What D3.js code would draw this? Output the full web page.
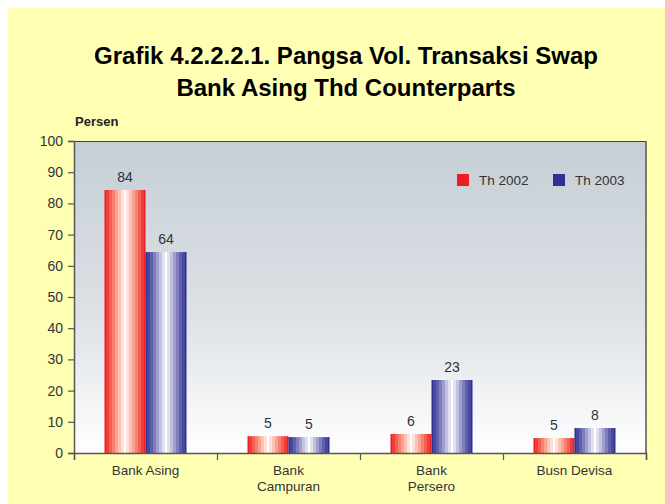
<!DOCTYPE html>
<html><head><meta charset="utf-8">
<script src="https://cdn.jsdelivr.net/npm/d3@7"></script>
<style>body{margin:0;background:#fff;}svg{display:block;font-family:"Liberation Sans",Arial,sans-serif;}</style>
</head><body><svg id="c" width="665" height="504"></svg>
<script>
const categories = [["Bank Asing"], ["Bank", "Campuran"], ["Bank", "Persero"], ["Busn Devisa"]];
const seriesNames = ["Th 2002", "Th 2003"];
const values2002 = [84.3, 5.4, 6.1, 4.8];
const values2003 = [64.4, 5.1, 23.4, 8.0];
const yTicks = [0, 10, 20, 30, 40, 50, 60, 70, 80, 90, 100];
const titleLines = ["Grafik 4.2.2.2.1. Pangsa Vol. Transaksi Swap", "Bank Asing Thd Counterparts"];

const svg = d3.select("#c");
const m = {l: 74, r: 646, t: 141, b: 453};
const defs = svg.append("defs");
const FONT = "Liberation Sans, Arial, sans-serif";

svg.append("rect").attr("x", 8).attr("y", 8).attr("width", 657).attr("height", 496).attr("fill", "#FFFFB4");

const bg = defs.append("linearGradient").attr("id", "bg").attr("x1", 0).attr("y1", 0).attr("x2", 0).attr("y2", 1);
bg.append("stop").attr("offset", 0).attr("stop-color", "#C6CED6");
bg.append("stop").attr("offset", 0.55).attr("stop-color", "#DCE1E5");
bg.append("stop").attr("offset", 1).attr("stop-color", "#FFFFFF");

function barGrad(id, edge, mid1, mid2) {
  const g = defs.append("linearGradient").attr("id", id).attr("x1", 0).attr("x2", 1).attr("y1", 0).attr("y2", 0);
  const n = 14;
  for (let i = 0; i <= n; i++) {
    const t = i / n;
    const d = Math.abs(t - 0.5) * 2;
    const c = d3.interpolateRgbBasis(["#FFFFFF", mid2, mid1, edge])(Math.pow(d, 0.9));
    g.append("stop").attr("offset", Math.max(0, (i - 0.5) / n)).attr("stop-color", c);
    g.append("stop").attr("offset", Math.min(1, (i + 0.5) / n)).attr("stop-color", c);
  }
}
barGrad("gr", "#EE1C24", "#F7705A", "#FCC6B4");
barGrad("gb", "#2E3192", "#6A6AB0", "#C4C4E2");

const y = d3.scaleLinear().domain([0, 100]).range([m.b, m.t]);
const x0 = d3.scaleBand().domain(d3.range(categories.length)).range([m.l, m.r]).paddingInner(0).paddingOuter(0);
const x1 = d3.scaleBand().domain([0, 1]).range([30.5, x0.bandwidth() - 30.5]);

svg.append("rect").attr("x", m.l).attr("y", m.t).attr("width", m.r - m.l).attr("height", m.b - m.t).attr("fill", "url(#bg)");

svg.selectAll(".title").data(titleLines).join("text")
  .attr("x", 346).attr("y", (d, i) => 64 + i * 32).attr("text-anchor", "middle")
  .attr("font-size", 24).attr("font-weight", "bold").attr("fill", "#000").text(d => d);

svg.append("text").attr("x", 75).attr("y", 126).attr("font-size", 13).attr("font-weight", "bold").attr("fill", "#222").text("Persen");

const series = [values2002, values2003];
const grads = ["url(#gr)", "url(#gb)"];
series.forEach((vals, s) => {
  const g = svg.append("g");
  g.selectAll("rect").data(vals).join("rect")
    .attr("x", (d, i) => x0(i) + x1(s)).attr("width", x1.bandwidth())
    .attr("y", d => y(d)).attr("height", d => y(0) - y(d)).attr("fill", grads[s]);
  g.selectAll("text").data(vals).join("text")
    .attr("x", (d, i) => x0(i) + x1(s) + x1.bandwidth() / 2).attr("y", d => y(d) - 8)
    .attr("text-anchor", "middle").attr("font-size", 14).attr("fill", "#333").text(d => d3.format(".0f")(d));
});

svg.append("line").attr("x1", m.l).attr("x2", m.r).attr("y1", m.t + 0.5).attr("y2", m.t + 0.5).attr("stroke", "#444").attr("stroke-width", 1.2);
svg.append("line").attr("x1", m.r).attr("x2", m.r).attr("y1", m.t).attr("y2", m.b).attr("stroke", "#555").attr("stroke-width", 1.5);

const ya = svg.append("g").attr("transform", `translate(${m.l},0)`)
  .call(d3.axisLeft(y).tickValues(yTicks).tickSize(6).tickPadding(5));
ya.select(".domain").attr("stroke", "#555").attr("stroke-width", 1.5);
ya.selectAll(".tick line").attr("stroke", "#555").attr("stroke-width", 1.2);
ya.selectAll(".tick text").attr("font-size", 14).attr("fill", "#333").attr("font-family", FONT);

const xb = d3.scaleLinear().domain([0, categories.length]).range([m.l, m.r]);
const xa = svg.append("g").attr("transform", `translate(0,${m.b})`)
  .call(d3.axisBottom(xb).tickValues(d3.range(categories.length + 1)).tickSize(7).tickFormat(""));
xa.select(".domain").attr("stroke", "#555").attr("stroke-width", 1.5);
xa.selectAll(".tick line").attr("stroke", "#555").attr("stroke-width", 1.2);

const cl = svg.selectAll(".cat").data(categories).join("text")
  .attr("text-anchor", "middle").attr("font-size", 13.5).attr("fill", "#333");
cl.each(function(d, i) {
  d3.select(this).selectAll("tspan").data(d).join("tspan")
    .attr("x", x0(i) + x0.bandwidth() / 2).attr("y", (t, j) => 475 + j * 16).text(t => t);
});

const legCols = ["#EE1C24", "#2E3192"];
const lg = svg.selectAll(".leg").data(seriesNames).join("g").attr("transform", (d, i) => `translate(${457 + i * 96},174)`);
lg.append("rect").attr("width", 12).attr("height", 12).attr("fill", (d, i) => legCols[i]);
lg.append("text").attr("x", 22).attr("y", 11).attr("font-size", 13.5).attr("fill", "#333").text(d => d);
</script></body></html>
